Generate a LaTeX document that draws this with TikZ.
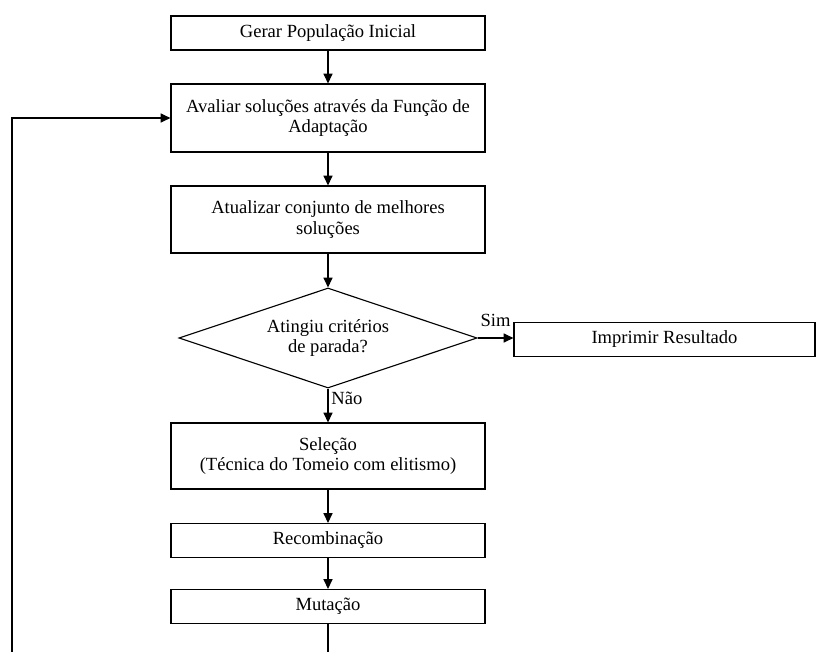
\documentclass[tikz,border=0pt]{standalone}
\usepackage{fontspec}
\setmainfont{Liberation Serif}
\usetikzlibrary{shapes.geometric,arrows.meta}

\begin{document}
\begin{tikzpicture}[x=0.025cm,y=-0.025cm]
	\tikzstyle{every node}+=[font=\fontsize{13.2}{14.8}\selectfont, align=center]
	\tikzstyle{caixa}=[draw=black, line width=0.8pt, inner sep=0pt, minimum width=7.85cm, minimum height=0.85cm]
	\tikzstyle{decisao}=[draw=black, line width=0.8pt, diamond, aspect=3, inner sep=0pt, minimum width=7.45cm, minimum height=2.5cm]
	\tikzstyle{seta}=[black, line width=0.8pt, -{Triangle[length=7pt, width=6.5pt]}]
	\useasboundingbox (0,0) rectangle (819,651);
	\clip (0,0) rectangle (819,651);
	\node[caixa] (gerar) at (328,33) {Gerar População Inicial};
	\node[caixa, minimum height=1.7cm] (avaliar) at (328,118) {Avaliar soluções através da Função de\\Adaptação};
	\node[caixa, minimum height=1.675cm] (atualizar) at (328,219.5) {Atualizar conjunto de melhores\\soluções};
	\node[decisao] (parada) at (328,338) {Atingiu critérios\\de parada?};
	\node[caixa, minimum width=7.525cm] (imprimir) at (664.5,339.5) {Imprimir Resultado};
	\node[caixa, minimum height=1.65cm] (selecao) at (328,456) {Seleção\\(Técnica do Tomeio com elitismo)};
	\node[caixa] (recomb) at (328,540.5) {Recombinação};
	\node[caixa] (mutacao) at (328,606.5) {Mutação};
	\coordinate (volta) at (12,670);
	\draw[seta] (gerar) -- (avaliar);
	\draw[seta] (avaliar) -- (atualizar);
	\draw[seta] (atualizar) -- (parada);
	\draw[seta] (parada.east) -- node[above=4pt]{Sim} (parada.east -| imprimir.west);
	\draw[seta] (parada) -- node[pos=0.3, right, inner sep=2pt]{Não} (selecao);
	\draw[seta] (selecao) -- (recomb);
	\draw[seta] (recomb) -- (mutacao);
	\draw[seta] (mutacao.south) |- (volta) |- (avaliar.west);
\end{tikzpicture}
\end{document}
